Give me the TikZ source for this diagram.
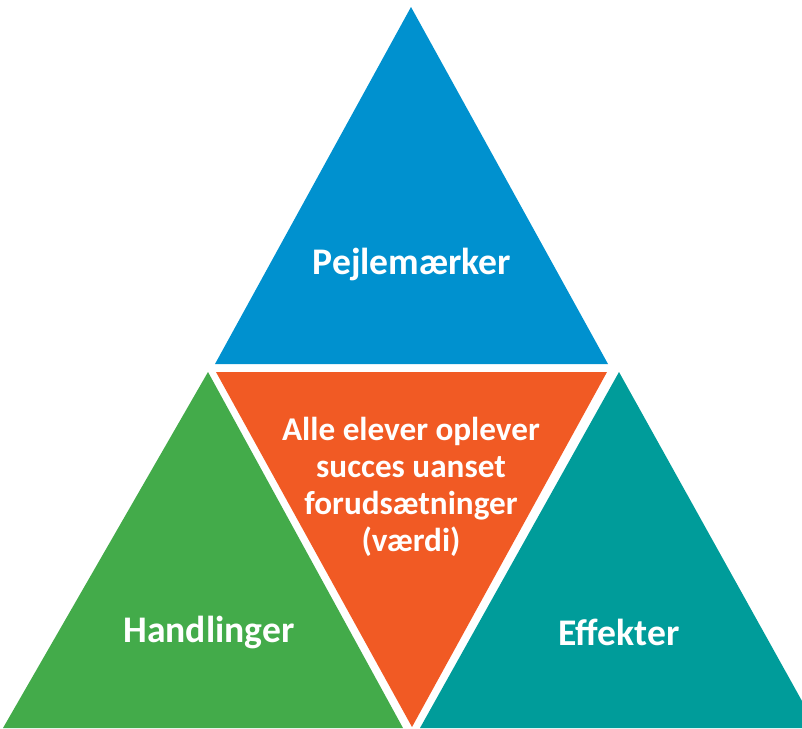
\documentclass[tikz,border=0pt]{standalone}
\usepackage{fontspec}
\setmainfont{Carlito}
\usepackage{tikz}
\usetikzlibrary{positioning,calc}

\definecolor{pejleblue}{HTML}{0091CF}
\definecolor{valueorange}{HTML}{F15A24}
\definecolor{actgreen}{HTML}{43AB4A}
\definecolor{effteal}{HTML}{009C9A}

\begin{document}
\begin{tikzpicture}[x=0.5pt,y=-0.5pt,
        label/.style={text=white,font=\bfseries\fontsize{18.8}{22}\selectfont,align=center},
        midlabel/.style={label,font=\bfseries\fontsize{16.6}{18.5}\selectfont}]
        \useasboundingbox (0,0) rectangle (802,728);
        % corners of the four triangles
        \coordinate (pa) at (411,7);
        \coordinate (pl) at (215,364);
        \coordinate (pr) at (608,364);
        \coordinate (vl) at (216,372);
        \coordinate (vr) at (607,372);
        \coordinate (vb) at (412,727);
        \coordinate (ha) at (208,372);
        \coordinate (hl) at (3,728);
        \coordinate (hr) at (403,728);
        \coordinate (ea) at (619,372);
        \coordinate (el) at (420,728);
        \coordinate (er) at (817,728);

        \fill[pejleblue] (pa)--(pl)--(pr)--cycle;
        \fill[valueorange] (vl)--(vr)--(vb)--cycle;
        \fill[actgreen] (ha)--(hl)--(hr)--cycle;
        \fill[effteal] (ea)--(el)--(er)--cycle;

        \node[label] (pejl) at (412,264) {Pejlemærker};
        \node[midlabel] (vaerdi) at (411,487) {Alle elever oplever\\succes uanset\\forudsætninger\\(værdi)};
        \node[label] (handl) at (209,632) {Handlinger};
        \node[label] (effekt) at (619,632) {Effekter};
    \end{tikzpicture}
\end{document}
